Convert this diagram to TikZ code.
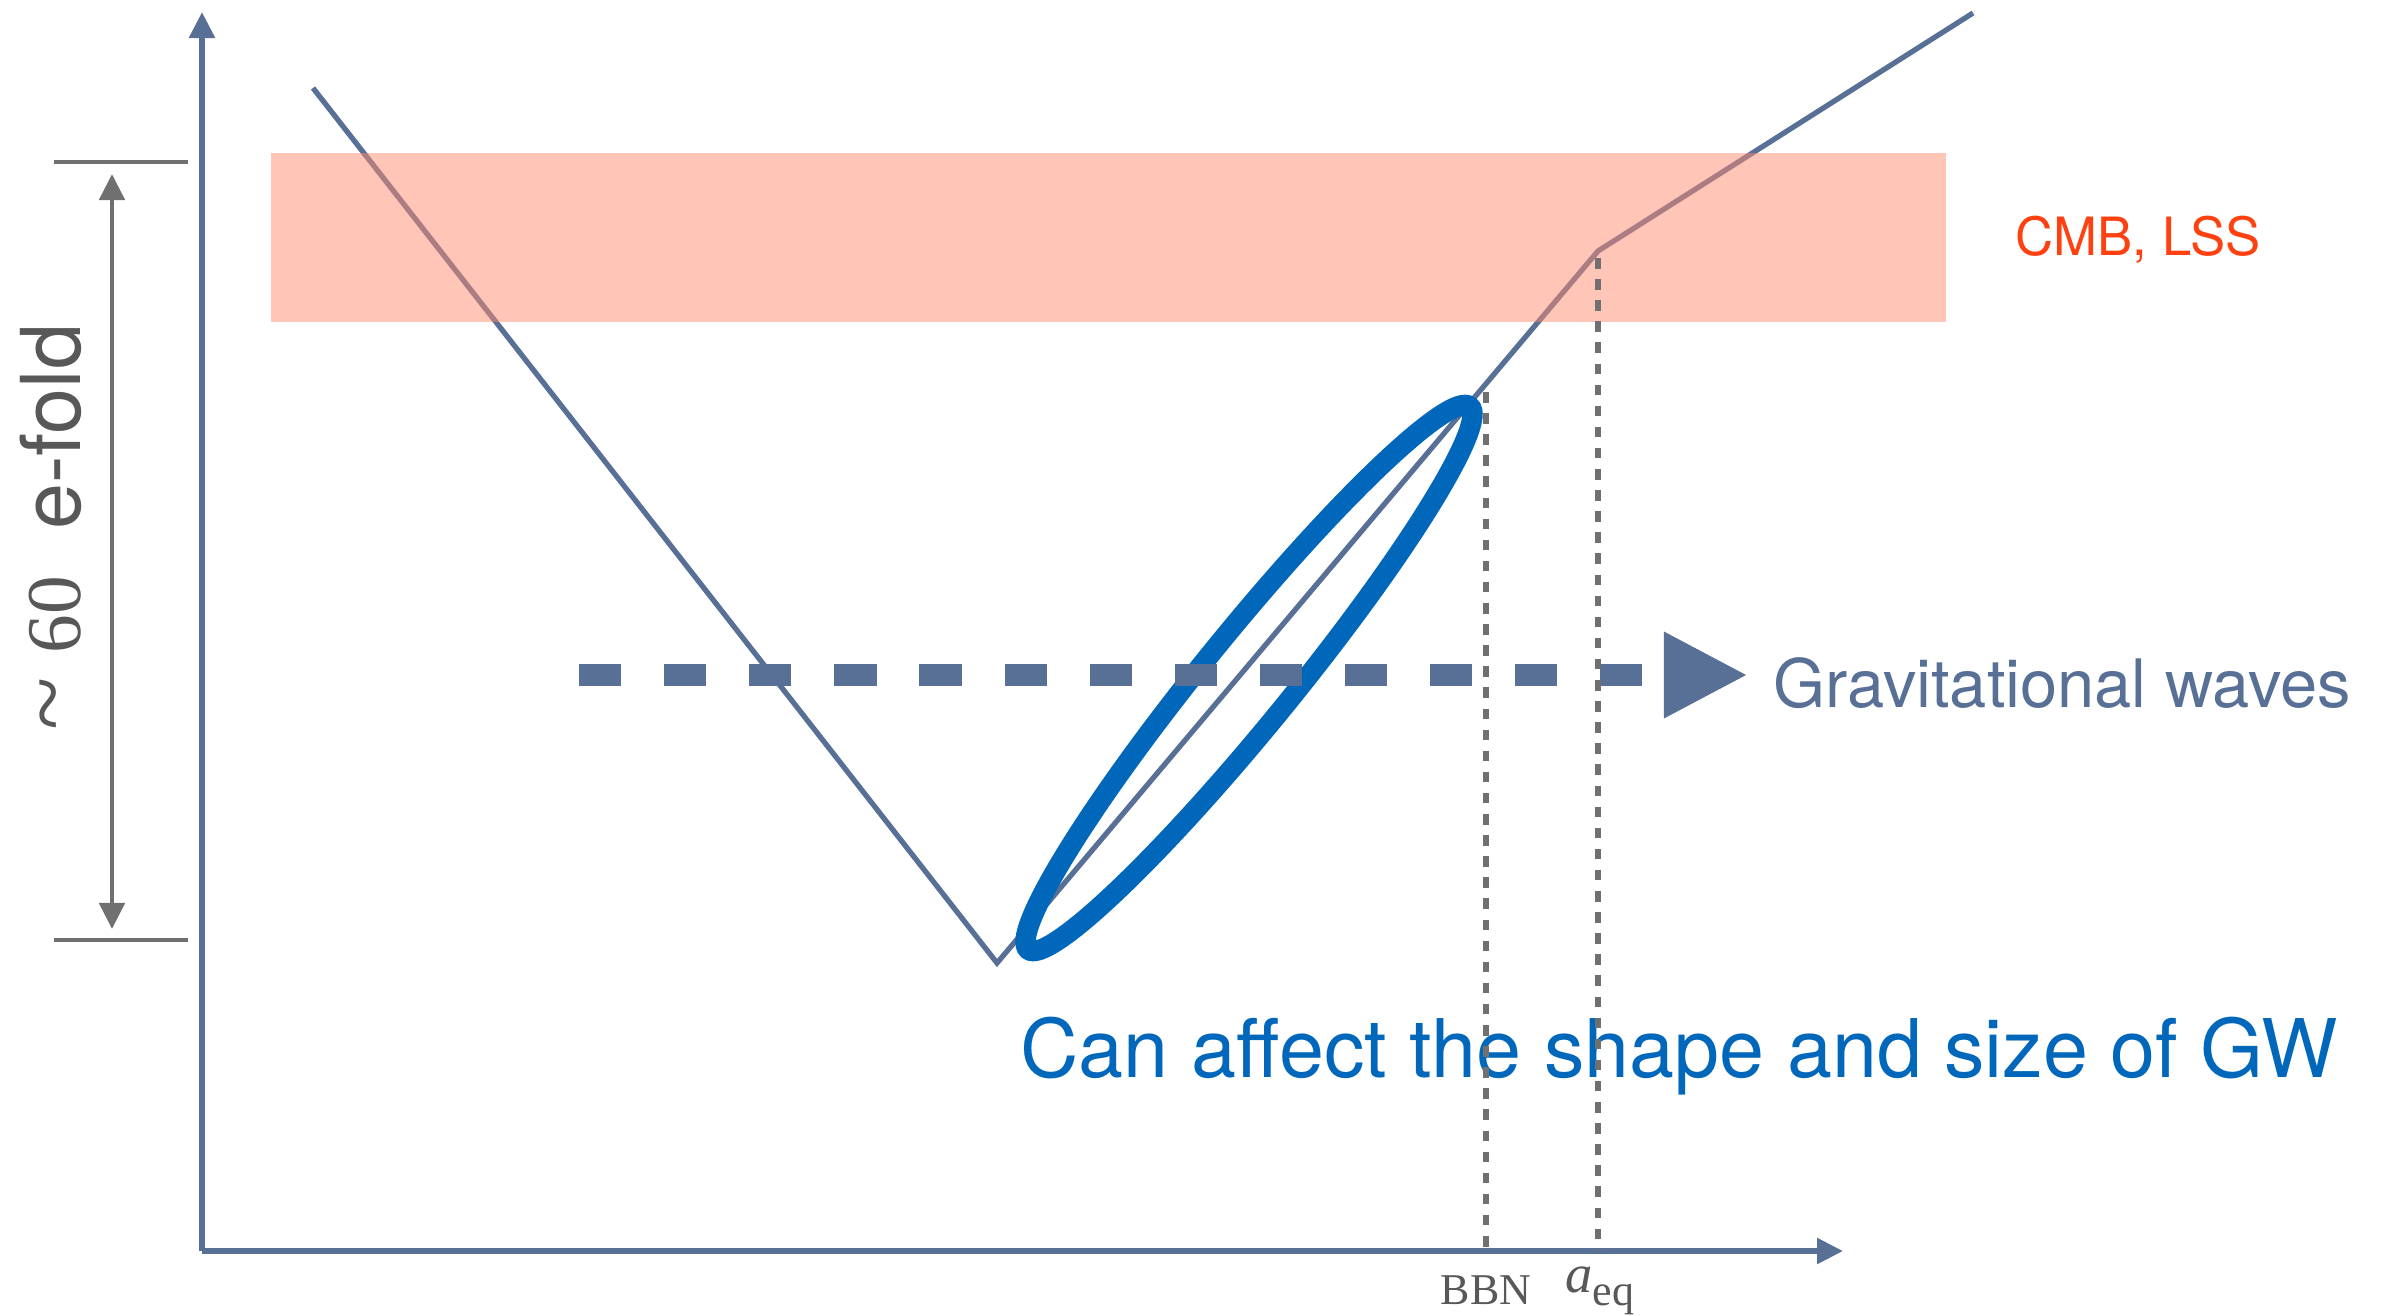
\documentclass[tikz,border=0pt]{standalone}
\usepackage{fontspec}
\setmainfont{Liberation Serif}
\setsansfont{TeX Gyre Heros}
\usetikzlibrary{arrows.meta}
\definecolor{cslate}{RGB}{88,112,150}
\definecolor{cellipse}{RGB}{0,103,187}
\definecolor{ccmb}{RGB}{255,64,16}
\definecolor{cband}{RGB}{255,139,111}
\definecolor{cgrid}{RGB}{112,112,112}
\definecolor{ctext}{RGB}{88,88,88}
\tikzset{
  axisline/.style={cslate, line width=1.6pt, -{Triangle[length=7.4pt, width=7.1pt]}},
  foldtick/.style={cgrid, line width=1.2pt},
  foldarrow/.style={cgrid, line width=1.4pt,
    {Triangle[length=7.4pt, width=7.1pt]}-{Triangle[length=7.4pt, width=7.1pt]}},
  epochline/.style={cgrid, line width=1.8pt, dash pattern=on 3pt off 3pt},
  gwwave/.style={cslate, line width=6.2pt, dash pattern=on 12pt off 12.2pt,
    -{Triangle[length=23.9pt, width=22.8pt]}}
}

\begin{document}
\begin{tikzpicture}[x=0.01cm, y=-0.01cm]
\useasboundingbox (0,0) rectangle (2383,1315);
\coordinate (origin) at (202,1251);
\coordinate (ytip) at (202,12);
\coordinate (xtip) at (1843,1251);
\coordinate (start) at (313,88);
\coordinate (bottom) at (997,963);
\coordinate (kink) at (1598,251);
\coordinate (end) at (1973,13);
\coordinate (bbn) at (1486,392);
\coordinate (aeq) at (1598,258);
\draw[axisline] (origin) -- (ytip);
\draw[axisline] (origin) -- (xtip);
\draw[cslate, line width=1.5pt] (start) -- (bottom) -- (kink) -- (end);
\fill[cband, opacity=0.5] (271,153) rectangle (1946,322);
\node[anchor=base west, ccmb, font=\sffamily\fontsize{15}{18}\selectfont]
  (cmb) at (2003,255) {CMB, LSS};
% e-fold range
\coordinate (foldtop) at (112,174);
\coordinate (foldbot) at (112,929);
\draw[foldtick] (54,162) -- (188,162);
\draw[foldtick] (54,940) -- (188,940);
\draw[foldarrow] (foldtop) -- (foldbot);
\node[rotate=90, anchor=base, ctext, font=\fontsize{22}{26}\selectfont]
  (efold) at (80,527)
  {{\fontsize{28}{30}\selectfont\textasciitilde}\hspace{0.3em}60\hspace{0.6em}%
   {\sffamily\fontsize{23.5}{26}\selectfont e-fold}};
\begin{scope}[shift={(1249,678)}, rotate=50.9]
\draw[cellipse, line width=5.8pt] (0,0) coordinate (gw)
  ellipse [x radius=350, y radius=45];
\end{scope}
\coordinate (gwtail) at (579,675);
\coordinate (gwtip) at (1748,675);
\draw[gwwave] (gwtail) -- (gwtip);
\node[anchor=base west, cslate, font=\sffamily\fontsize{19}{23}\selectfont]
  (gwlabel) at (1761,707) {Gravitational waves};
\node[anchor=base west, cellipse, font=\sffamily\fontsize{23}{27}\selectfont]
  (effect) at (1008,1077) {Can affect the shape and size of GW};
\draw[epochline] (bbn) -- (bbn |- origin);
\draw[epochline] (aeq) -- (aeq |- origin);
\node[anchor=base, ctext, font=\fontsize{12.5}{15}\selectfont]
  (bbnlabel) at (1486,1304) {BBN};
\node[anchor=base, ctext] (aeqlabel) at (1600,1292)
  {{\fontsize{15.5}{18}\selectfont\textit{a}}{\fontsize{12.5}{15}\selectfont\raisebox{-3.7pt}{eq}}};
\end{tikzpicture}
\end{document}
